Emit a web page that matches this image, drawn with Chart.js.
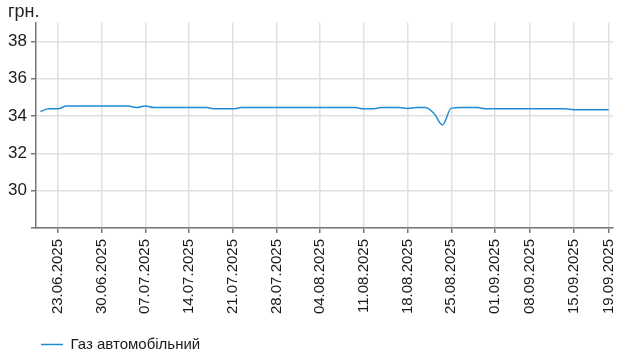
<!DOCTYPE html>
<html>
<head>
<meta charset="utf-8">
<script src="https://cdn.jsdelivr.net/npm/chart.js@4.4.0/dist/chart.umd.min.js"></script>
<style>
    html, body { margin: 0; padding: 0; background: #fff; }
</style>
</head>
<body>
<canvas id="gasChart" width="625" height="360"></canvas>
<script>
const dates = [
    '19.06.2025', '20.06.2025',
    '23.06.2025', '24.06.2025', '25.06.2025', '26.06.2025', '27.06.2025',
    '30.06.2025', '01.07.2025', '02.07.2025', '03.07.2025', '04.07.2025',
    '07.07.2025', '08.07.2025', '09.07.2025', '10.07.2025', '11.07.2025',
    '14.07.2025', '15.07.2025', '16.07.2025', '17.07.2025', '18.07.2025',
    '21.07.2025', '22.07.2025', '23.07.2025', '24.07.2025', '25.07.2025',
    '28.07.2025', '29.07.2025', '30.07.2025', '31.07.2025', '01.08.2025',
    '04.08.2025', '05.08.2025', '06.08.2025', '07.08.2025', '08.08.2025',
    '11.08.2025', '12.08.2025', '13.08.2025', '14.08.2025', '15.08.2025',
    '18.08.2025', '19.08.2025', '20.08.2025', '21.08.2025', '22.08.2025',
    '25.08.2025', '26.08.2025', '27.08.2025', '28.08.2025', '29.08.2025',
    '01.09.2025', '02.09.2025', '03.09.2025', '05.09.2025',
    '08.09.2025', '09.09.2025', '10.09.2025', '11.09.2025', '12.09.2025',
    '15.09.2025', '16.09.2025', '17.09.2025', '18.09.2025', '19.09.2025'
];

const gasPrices = [
    34.24, 34.38,
    34.38, 34.53, 34.53, 34.53, 34.53,
    34.53, 34.53, 34.53, 34.53, 34.45,
    34.54, 34.45, 34.45, 34.45, 34.45,
    34.45, 34.45, 34.45, 34.38, 34.38,
    34.38, 34.45, 34.45, 34.45, 34.45,
    34.45, 34.45, 34.45, 34.45, 34.45,
    34.45, 34.45, 34.45, 34.45, 34.45,
    34.38, 34.38, 34.45, 34.45, 34.45,
    34.40, 34.45, 34.45, 34.15, 33.52,
    34.42, 34.45, 34.45, 34.45, 34.38,
    34.38, 34.38, 34.38, 34.38,
    34.38, 34.38, 34.38, 34.38, 34.38,
    34.33, 34.33, 34.33, 34.33, 34.33
];

const dateTicks = [
    '23.06.2025', '30.06.2025', '07.07.2025', '14.07.2025', '21.07.2025',
    '28.07.2025', '04.08.2025', '11.08.2025', '18.08.2025', '25.08.2025',
    '01.09.2025', '08.09.2025', '15.09.2025', '19.09.2025'
];
const priceTicks = [30, 32, 34, 36, 38];
const priceMin = 28;
const priceMax = 39;

const seriesName = 'Газ автомобільний';
const unitLabel = 'грн.';

const fontFamily = "'Liberation Sans', Arial, sans-serif";
const lineColor = '#1f8dd6';
const gridColor = '#e0e0e0';
const axisColor = '#777777';

new Chart(document.getElementById('gasChart'), {
    type: 'line',
    data: {
        labels: dates,
        datasets: [{
            label: seriesName,
            data: gasPrices,
            borderColor: lineColor,
            backgroundColor: lineColor,
            borderWidth: 1.5,
            pointRadius: 0,
            cubicInterpolationMode: 'monotone',
            fill: false
        }]
    },
    options: {
        responsive: false,
        animation: false,
        layout: {
            padding: {left: 8, right: 12, top: 0, bottom: -2}
        },
        scales: {
            x: {
                offset: true,
                afterBuildTicks(axis) {
                    axis.ticks = axis.ticks.filter(t => dateTicks.includes(dates[t.value]));
                },
                afterFit(axis) {
                    // room for the rotated dates, and no extra side room for the last one
                    axis.height = 104;
                    axis.paddingLeft = 0;
                    axis.paddingRight = 0;
                },
                ticks: {
                    autoSkip: false,
                    minRotation: 90,
                    maxRotation: 90,
                    padding: 6,
                    color: '#1a1a1a',
                    font: {family: fontFamily, size: 15}
                },
                grid: {
                    color: gridColor,
                    lineWidth: 1.5,
                    tickColor: axisColor,
                    tickLength: 5
                },
                border: {color: axisColor, width: 1.5}
            },
            y: {
                min: priceMin,
                max: priceMax,
                afterBuildTicks(axis) {
                    // bottom tick only gets a mark, no label
                    axis.ticks = [priceMin, ...priceTicks].map(v => ({value: v}));
                },
                afterFit(axis) {
                    axis.width = 28;
                },
                ticks: {
                    padding: 4,
                    color: '#1a1a1a',
                    font: {family: fontFamily, size: 17},
                    callback: (value) => priceTicks.includes(value) ? value : ''
                },
                grid: {
                    color: gridColor,
                    lineWidth: 1.5,
                    tickColor: axisColor,
                    tickLength: 5
                },
                border: {color: axisColor, width: 1.5}
            }
        },
        plugins: {
            title: {
                display: true,
                text: unitLabel,
                align: 'start',
                color: '#222',
                font: {family: fontFamily, size: 18, weight: 'normal'},
                padding: {top: 1, bottom: 0}
            },
            legend: {
                position: 'bottom',
                align: 'start',
                fullSize: false,
                labels: {
                    usePointStyle: true,
                    pointStyle: 'line',
                    pointStyleWidth: 22,
                    padding: 5,
                    color: '#1a1a1a',
                    font: {family: fontFamily, size: 15}
                }
            },
            tooltip: {enabled: false}
        }
    }
});
</script>
</body>
</html>
